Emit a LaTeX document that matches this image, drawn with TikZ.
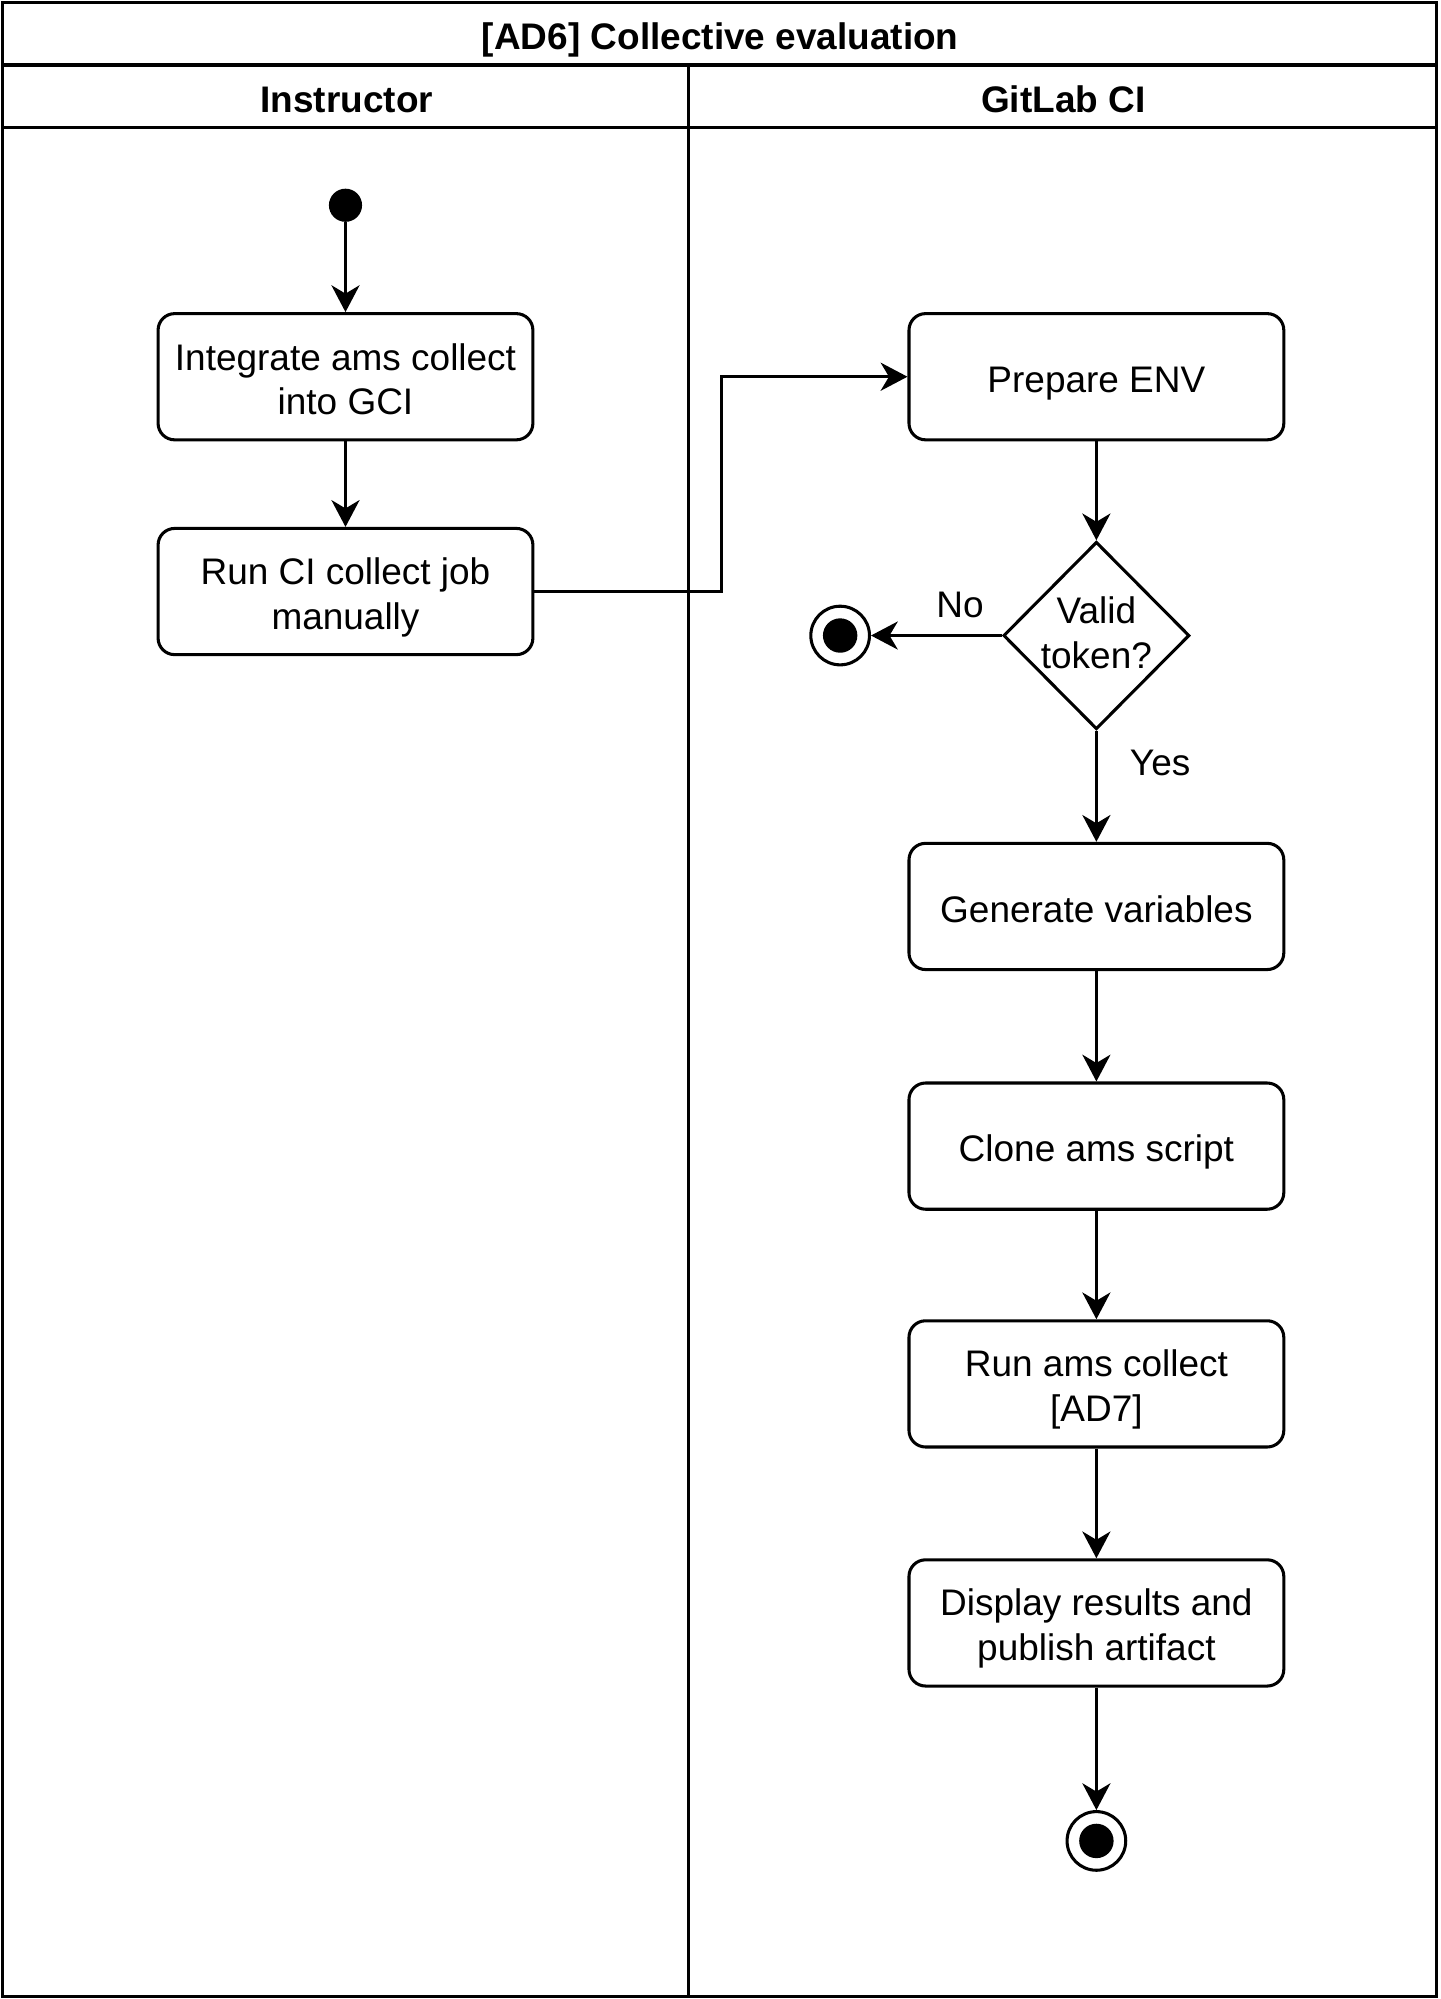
\documentclass[tikz,border=0pt]{standalone}
\usepackage{fontspec}
\setmainfont{Liberation Sans}
\usetikzlibrary{shapes.geometric,arrows.meta}
\newcommand\lnstrut{\rule[-5pt]{0pt}{35pt}}
\begin{document}
\begin{tikzpicture}[x=1pt,y=-1pt,
 lw/.style={line width=2.4pt},
 txt/.style={font=\fontsize{29}{35}\selectfont,inner sep=0pt,
   execute at begin node=\lnstrut, execute at end node=\lnstrut},
 act/.style={draw,lw,rounded corners=13pt,minimum width=294pt,minimum height=99pt,align=center,txt},
 flow/.style={lw,-{Stealth[length=21pt,width=22pt,inset=6.5pt]}},
 hdr/.style={txt,font=\fontsize{29}{35}\selectfont\bfseries},
 enddot/.style={circle,fill=black,minimum size=27pt,inner sep=0pt},
 enddotsmall/.style={circle,fill=black,minimum size=26pt,inner sep=0pt},
 endring/.style={circle,draw,lw,minimum size=46pt,inner sep=0pt}]
\useasboundingbox (0,0) rectangle (1130,1568);
% pool and lanes
\draw[lw] (2,2) rectangle (1127,1566);
\draw[lw] (2,51) -- (1127,51);
\draw[lw] (2,100) -- (1127,100);
\draw[lw] (540,51) -- (540,1566);
\node[hdr] (title) at (565,26.5) {[AD6] Collective evaluation};
\node[hdr] (lane1) at (272,75.5) {Instructor};
\node[hdr] (lane2) at (834,75.5) {GitLab CI};
% instructor lane
\node[enddotsmall] (start) at (271,161) {};
\node[act] (b1) at (271,295.5) {\lnstrut Integrate ams collect\\into GCI};
\node[act] (b2) at (271,464) {\lnstrut Run CI collect job\\manually};
% gitlab lane
\node[act] (prep) at (860,295.5) {Prepare ENV};
\node[diamond,draw,lw,minimum width=146pt,minimum height=147pt,inner sep=0pt] (dec) at (860,498.5) {};
\node[txt,align=center] (dectext) at (860,494) {\lnstrut Valid\\token?};
\node[endring] (end1) at (659,498.5) {};
\node[enddot] (end1dot) at (end1) {};
\node[act] (gen) at (860,711) {Generate variables};
\node[act] (clone) at (860,899) {Clone ams script};
\node[act] (run) at (860,1085.5) {\lnstrut Run ams collect\\{[AD7]}};
\node[act] (disp) at (860,1273) {\lnstrut Display results and\\publish artifact};
\node[endring] (end2) at (860,1444) {};
\node[enddot] (end2dot) at (end2) {};
% connectors
\draw[flow] (start) -- (b1);
\draw[flow] (b1) -- (b2);
\coordinate (bend) at (566,464);
\draw[flow] (b2.east) -- (bend) |- (prep.west);
\draw[flow] (prep) -- (dec.north);
\draw[flow] (dec.west) -- (end1);
\node[txt] (nolbl) at (753,472) {No};
\draw[flow] (dec.south) -- (gen);
\node[txt] (yeslbl) at (910,595.5) {Yes};
\draw[flow] (gen) -- (clone);
\draw[flow] (clone) -- (run);
\draw[flow] (run) -- (disp);
\draw[flow] (disp) -- (end2);
\end{tikzpicture}
\end{document}
